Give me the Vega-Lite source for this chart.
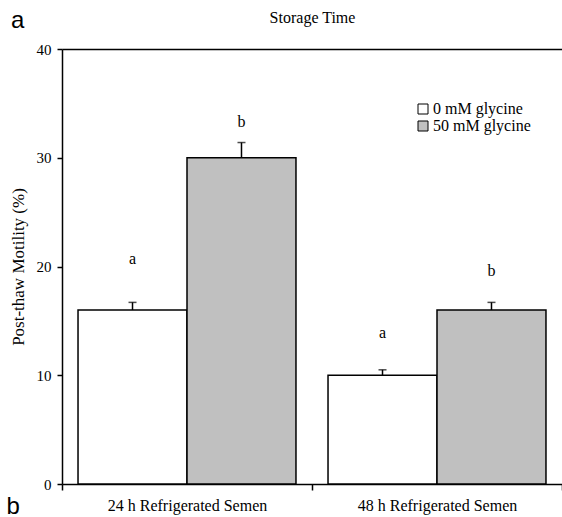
{
  "$schema": "https://vega.github.io/schema/vega-lite/v6.json",
  "width": 500,
  "height": 435,
  "autosize": {"type": "none"},
  "padding": {"left": 62, "top": 49, "right": 0, "bottom": 33},
  "title": {"text": "a", "anchor": "start", "frame": "group", "font": "Liberation Sans", "fontSize": 24, "fontWeight": "normal", "color": "black", "baseline": "alphabetic", "dx": -51, "dy": 47},
  "config": {"view": {"stroke": null}, "font": "Liberation Serif"},
  "data": {"values": [
    {"time": "24 h Refrigerated Semen", "conc": "0 mM glycine", "mean": 16, "upper": 16.7, "letter": "a", "letter_y": 20.2},
    {"time": "24 h Refrigerated Semen", "conc": "50 mM glycine", "mean": 30, "upper": 31.4, "letter": "b", "letter_y": 32.8},
    {"time": "48 h Refrigerated Semen", "conc": "0 mM glycine", "mean": 10, "upper": 10.5, "letter": "a", "letter_y": 13.4},
    {"time": "48 h Refrigerated Semen", "conc": "50 mM glycine", "mean": 16, "upper": 16.7, "letter": "b", "letter_y": 19.1}
  ]},
  "layer": [
    {
      "mark": {"type": "bar", "stroke": "black", "strokeWidth": 1.5},
      "encoding": {
        "x": {"field": "time", "type": "nominal", "sort": null, "scale": {"paddingInner": 0, "paddingOuter": 0},
          "axis": {"title": "b", "titleFont": "Liberation Sans", "titleFontSize": 24, "titleFontWeight": "normal", "titleColor": "black", "titleX": -56, "titleY": 29, "titleAlign": "left", "titleBaseline": "alphabetic", "labelAngle": 0, "labelFont": "Liberation Serif", "labelFontSize": 16, "labelColor": "black", "labelPadding": 7, "tickBand": "extent", "tickSize": 6, "tickColor": "black", "tickWidth": 1.5, "domainColor": "black", "domainWidth": 1.5, "grid": false}},
        "xOffset": {"field": "conc", "type": "nominal", "sort": null, "scale": {"paddingOuter": 0.147, "paddingInner": 0}},
        "y": {"field": "mean", "type": "quantitative", "scale": {"domain": [0, 40], "nice": false},
          "axis": {"values": [0, 10, 20, 30, 40], "grid": false, "domainColor": "black", "domainWidth": 1.5, "tickColor": "black", "tickWidth": 1.5, "tickSize": 5, "labelFont": "Liberation Serif", "labelFontSize": 15, "labelColor": "black", "labelPadding": 6, "title": "Post-thaw Motility (%)", "titleFont": "Liberation Serif", "titleFontSize": 17, "titleFontWeight": "normal", "titleColor": "black", "titlePadding": 9}},
        "fill": {"field": "conc", "type": "nominal", "sort": null, "scale": {"range": ["white", "#c0c0c0"]},
          "legend": {"title": null, "orient": "none", "legendX": 353, "legendY": 52, "symbolType": "square", "symbolSize": 100, "symbolStrokeColor": "black", "symbolStrokeWidth": 1, "labelFont": "Liberation Serif", "labelFontSize": 16, "labelColor": "black", "labelOffset": 2, "rowPadding": 1}}
      }
    },
    {
      "mark": {"type": "rule", "color": "black", "strokeWidth": 1.5},
      "encoding": {
        "x": {"field": "time", "type": "nominal", "sort": null, "axis": null},
        "xOffset": {"field": "conc", "type": "nominal", "sort": null},
        "y": {"field": "mean", "type": "quantitative", "title": "Post-thaw Motility (%)"},
        "y2": {"field": "upper"}
      }
    },
    {
      "mark": {"type": "tick", "color": "black", "size": 8, "thickness": 1.5, "orient": "horizontal"},
      "encoding": {
        "x": {"field": "time", "type": "nominal", "sort": null, "axis": null},
        "xOffset": {"field": "conc", "type": "nominal", "sort": null},
        "y": {"field": "upper", "type": "quantitative", "title": "Post-thaw Motility (%)"}
      }
    },
    {
      "mark": {"type": "text", "color": "black", "font": "Liberation Serif", "fontSize": 16, "baseline": "alphabetic"},
      "encoding": {
        "x": {"field": "time", "type": "nominal", "sort": null,
          "axis": {"orient": "top", "title": "Storage Time", "labels": false, "ticks": false, "domain": true, "domainColor": "black", "domainWidth": 1.5, "grid": false, "titleFont": "Liberation Serif", "titleFontSize": 16, "titleFontWeight": "normal", "titleColor": "black", "titlePadding": 24}},
        "xOffset": {"field": "conc", "type": "nominal", "sort": null},
        "y": {"field": "letter_y", "type": "quantitative", "title": "Post-thaw Motility (%)"},
        "text": {"field": "letter"}
      }
    }
  ],
  "resolve": {"axis": {"x": "independent"}}
}
